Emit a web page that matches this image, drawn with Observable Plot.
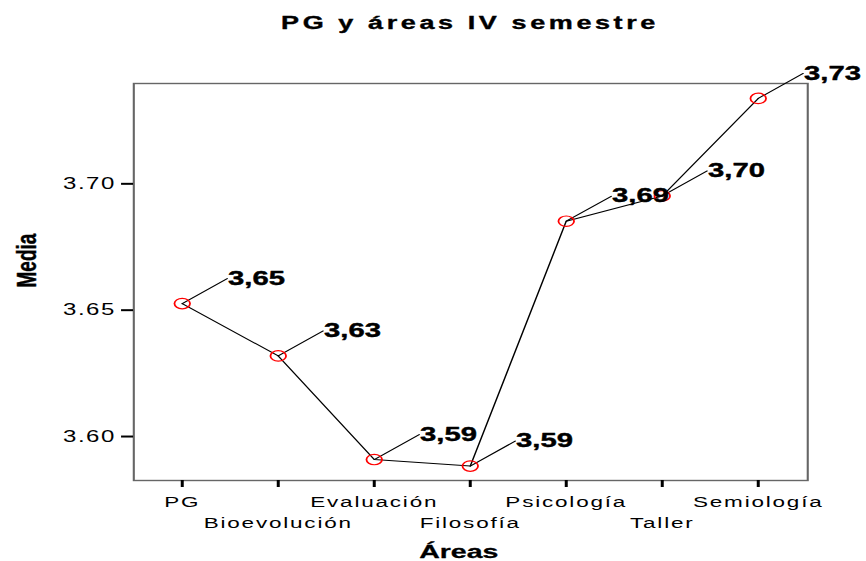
<!DOCTYPE html>
<html><head><meta charset="utf-8">
<script src="https://cdn.jsdelivr.net/npm/d3@7"></script>
<script src="https://cdn.jsdelivr.net/npm/@observablehq/plot@0.6"></script>
<style>
html,body{margin:0;padding:0;background:#fff;overflow:hidden}
#wrap{position:relative;width:577px;height:561px;transform:scaleX(1.5);transform-origin:0 0;font-family:"Liberation Sans",Arial,sans-serif}
#title{position:absolute;top:3px;left:88.7px;width:449.3px;text-align:center;font-weight:bold;font-size:18px;line-height:40px;letter-spacing:2.4px;color:#000;-webkit-text-stroke:0.35px #000}
#chart{position:absolute;top:40px;left:0}
g[aria-label="y-axis tick label"] text{letter-spacing:1px}
g[aria-label="x-axis tick label"] text{letter-spacing:1.2px}
</style></head><body>
<div id="wrap"><div id="title">PG y áreas IV semestre</div><div id="chart"></div></div>
<script>
const categories = ["PG", "Bioevolución", "Evaluación", "Filosofía", "Psicología", "Taller", "Semiología"];
const means = [3.6526, 3.6319, 3.5909, 3.5883, 3.6852, 3.6952, 3.7338];
const yTicks = [3.60, 3.65, 3.70];
const yDomain = [3.5826, 3.7397];

const data = categories.map((c, i) => ({area: c, media: means[i], label: d3.format(".2f")(means[i]).replace(".", ",")}));
const even = categories.filter((d, i) => i % 2 === 0);
const odd = categories.filter((d, i) => i % 2 === 1);
const leader = {draw(context, l) { context.moveTo(0, 0); context.lineTo(0, -l); }};

const plot = Plot.plot({
  width: 577, height: 521,
  marginLeft: 88.7, marginRight: 39, marginTop: 43, marginBottom: 81,
  style: {fontFamily: "Liberation Sans, Arial, sans-serif", background: "white", color: "black", overflow: "visible"},
  x: {type: "point", domain: categories, padding: 0.5},
  y: {domain: yDomain},
  marks: [
    Plot.frame({stroke: "#666", strokeWidth: 1.4}),
    Plot.axisY({ticks: yTicks, tickFormat: d3.format(".2f"), tickSize: 8, tickPadding: 4, fontSize: 16, label: null, strokeWidth: 2}),
    Plot.axisX({ticks: even, tickSize: 7, tickPadding: 9, fontSize: 15, label: null, strokeWidth: 2}),
    Plot.axisX({ticks: odd, tickSize: 7, tickPadding: 30, fontSize: 15, label: null, strokeWidth: 2}),
    Plot.text(["Media"], {frameAnchor: "left", dx: -71.4, dy: 5.5, rotate: -90, fontSize: 19, fontWeight: "bold", lineAnchor: "middle", fill: "black", stroke: "black", strokeWidth: 0.3}),
    Plot.text(["Áreas"], {frameAnchor: "bottom", dx: -8, dy: 77, fontSize: 19, fontWeight: "bold", lineAnchor: "bottom", fill: "black", stroke: "black", strokeWidth: 0.3}),
    Plot.line(data, {x: "area", y: "media", stroke: "black", strokeWidth: 1}),
    Plot.vector(data, {x: "area", y: "media", length: 39, rotate: 50.2, anchor: "start", shape: leader, stroke: "black", strokeWidth: 1}),
    Plot.dot(data, {x: "area", y: "media", r: 5.2, stroke: "red", strokeWidth: 1.2, fill: "none"}),
    Plot.text(data, {x: "area", y: "media", text: "label", dx: 30.5, dy: -25, textAnchor: "start", lineAnchor: "middle", fontSize: 19.5, fontWeight: "bold", fill: "black", stroke: "black", strokeWidth: 0.4})
  ]
});
document.getElementById("chart").appendChild(plot);
</script>
</body></html>
